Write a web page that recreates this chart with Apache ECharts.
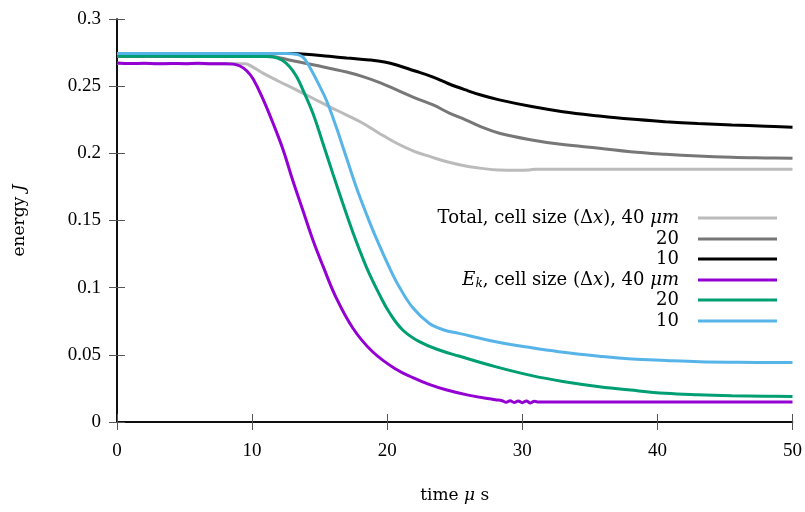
<!DOCTYPE html>
<html>
<head>
<meta charset="utf-8">
<script src="https://cdn.jsdelivr.net/npm/echarts@6/dist/echarts.min.js"></script>
<style>
  html, body { margin: 0; padding: 0; background: #fff; }
  #chart { width: 805px; height: 512px; }
</style>
</head>
<body>
<div id="chart"></div>
<script>
// Energy vs time for three cell sizes: total energy and kinetic energy E_k
const xTicks = [0, 10, 20, 30, 40, 50];
const yTicks = [0, 0.05, 0.1, 0.15, 0.2, 0.25, 0.3];

const tTotal40 = [0, 2, 4, 6, 8, 9.5, 10, 10.8, 12, 13.27, 14.5, 15.7, 17, 18.2, 19.4, 20.7, 22, 23.2, 24.5, 25.8, 27, 28.3, 29.5, 30.5, 31, 35, 40, 45, 50];
const eTotal40 = [0.2670, 0.2668, 0.2669, 0.2667, 0.2668, 0.2666, 0.2645, 0.2597, 0.2535, 0.2472, 0.2410, 0.2348, 0.2285, 0.2224, 0.2150, 0.2075, 0.2015, 0.1975, 0.1935, 0.1906, 0.1888, 0.1876, 0.1874, 0.1876, 0.1882, 0.1882, 0.1882, 0.1882, 0.1882];

const tTotal20 = [0, 4, 8, 11.5, 12, 13.3, 14.5, 15.7, 17, 18.2, 19.5, 20.7, 22, 23.4, 24.6, 25.8, 27, 28.3, 30.7, 33, 35.7, 38, 40.6, 43, 45.5, 48, 50];
const eTotal20 = [0.2721, 0.2721, 0.2721, 0.2720, 0.2712, 0.2683, 0.2660, 0.2634, 0.2605, 0.2571, 0.2525, 0.2472, 0.2415, 0.2360, 0.2300, 0.2249, 0.2195, 0.2150, 0.2100, 0.2065, 0.2038, 0.2012, 0.1993, 0.1980, 0.1971, 0.1966, 0.1963];

const tTotal10 = [0, 4, 8, 13, 14, 15.7, 17, 18.7, 19.8, 20.7, 22, 23.3, 24.5, 25.8, 27, 28.3, 30.7, 33, 35.7, 38, 40.6, 43, 45.5, 48, 50];
const eTotal10 = [0.2744, 0.2744, 0.2744, 0.2743, 0.2738, 0.2722, 0.2710, 0.2695, 0.2680, 0.2658, 0.2615, 0.2571, 0.2520, 0.2472, 0.2432, 0.2398, 0.2348, 0.2310, 0.2278, 0.2255, 0.2236, 0.2222, 0.2211, 0.2202, 0.2194];

const tKin40 = [0, 1, 2, 3, 4, 5, 6, 7, 8, 8.6, 9.1, 9.6, 10.1, 10.8, 11.55, 12.3, 13.0, 13.75, 14.5, 15.25, 16.2, 17.45, 18.9, 20.66, 21.9, 23.1, 24.35, 26, 28, 28.5, 28.8, 29.1, 29.4, 29.7, 30.0, 30.3, 30.6, 30.9, 31.2, 35, 40, 45, 50];
const eKin40 = [0.2672, 0.2668, 0.2670, 0.2666, 0.2669, 0.2667, 0.2670, 0.2666, 0.2667, 0.2664, 0.2650, 0.2615, 0.2550, 0.2405, 0.2224, 0.2025, 0.1801, 0.1578, 0.1355, 0.1160, 0.0930, 0.0700, 0.0525, 0.0392, 0.0330, 0.0280, 0.0240, 0.0200, 0.0166, 0.0158, 0.0147, 0.0158, 0.0145, 0.0157, 0.0144, 0.0156, 0.0142, 0.0155, 0.0148, 0.0148, 0.0148, 0.0148, 0.0148];

const tKin20 = [0, 4, 8, 11.0, 11.55, 12.2, 12.78, 13.3, 13.76, 14.5, 15.24, 15.97, 16.71, 17.45, 18.19, 18.69, 19.42, 20.16, 21.15, 22.38, 23.85, 25.3, 28, 30.7, 33, 35.7, 38, 40.6, 43, 45.5, 48, 50];
const eKin20 = [0.2722, 0.2722, 0.2721, 0.2720, 0.2718, 0.2695, 0.2645, 0.2570, 0.2472, 0.2298, 0.2075, 0.1851, 0.1628, 0.1415, 0.1220, 0.1100, 0.0950, 0.0815, 0.0685, 0.0598, 0.0536, 0.0491, 0.0412, 0.0345, 0.0302, 0.0263, 0.0238, 0.0214, 0.0203, 0.0196, 0.0192, 0.0190];

const tKin10 = [0, 4, 8, 12.5, 13.3, 13.8, 14.25, 14.85, 15.49, 16.22, 16.96, 17.7, 18.44, 19.18, 20.16, 20.9, 21.9, 23.1, 24.2, 25.3, 28.04, 30.7, 32.7, 35.7, 38.1, 40.6, 43.1, 46, 50];
const eKin10 = [0.2744, 0.2744, 0.2744, 0.2744, 0.2738, 0.2712, 0.2645, 0.2530, 0.2397, 0.2198, 0.1975, 0.1752, 0.1554, 0.1370, 0.1150, 0.1005, 0.0850, 0.0735, 0.0685, 0.0660, 0.0598, 0.0552, 0.0523, 0.0490, 0.0469, 0.0458, 0.0449, 0.0445, 0.0442];

const seriesNames = ['Total 40', 'Total 20', 'Total 10', 'Ek 40', 'Ek 20', 'Ek 10'];
const legendLabels = [
  'Total, cell size (Δ{i|x}), 40 {i|μm}',
  '20',
  '10',
  '{i|E}{sub|k}, cell size (Δ{i|x}), 40 {i|μm}',
  '20',
  '10'
];
const seriesColors = ['#bbbbbb', '#777777', '#000000', '#9400d3', '#009e73', '#56b4e9'];

const NUM_FONT = "'Liberation Serif', serif";
const TEXT_FONT = "'DejaVu Serif', serif";
const NUM_FS = 19;
const TEXT_FS = 17;
const LEGEND_FS = 18;

function pairs(t, e) { return t.map((x, i) => [x, e[i]]); }
const seriesData = [
  pairs(tTotal40, eTotal40), pairs(tTotal20, eTotal20), pairs(tTotal10, eTotal10),
  pairs(tKin40, eKin40), pairs(tKin20, eKin20), pairs(tKin10, eKin10)
];

function richFor(fs) {
  return {
    i: { fontFamily: TEXT_FONT, fontSize: fs, fontStyle: 'italic', color: '#000', lineHeight: 20 },
    sub: { fontFamily: TEXT_FONT, fontSize: 12, fontStyle: 'italic', color: '#000', lineHeight: 12, verticalAlign: 'bottom', padding: [8, 0, 0, 0] }
  };
}

// one right-anchored legend per entry so the texts line up on the right
const legendRowCenters = [218, 239, 259, 280, 300, 321];
const legends = seriesNames.map((name, k) => ({
  data: [name],
  right: 28,
  top: legendRowCenters[k] - 10,
  align: 'right',
  orient: 'vertical',
  icon: 'rect',
  itemWidth: 79,
  itemHeight: 3,
  padding: 0,
  selectedMode: false,
  formatter: () => legendLabels[k],
  textStyle: {
    fontFamily: TEXT_FONT, fontSize: LEGEND_FS, color: '#000', lineHeight: 20,
    padding: [0, 14, 0, 0],
    rich: richFor(LEGEND_FS)
  }
}));

const axisLineStyle = { color: '#000', width: 1.5 };
const tickStyle = { color: '#555', width: 1 };

const option = {
  animation: false,
  backgroundColor: '#fff',
  grid: { left: 117, right: 11, top: 19, bottom: 90, containLabel: false },
  legend: legends,
  xAxis: [
    {
      type: 'value', min: 0, max: 50, interval: 10, position: 'bottom',
      name: 'time {i|μ} s', nameLocation: 'middle', nameGap: 64,
      nameTextStyle: { fontFamily: TEXT_FONT, fontSize: TEXT_FS, color: '#000', rich: richFor(TEXT_FS) },
      axisLine: { show: true, lineStyle: axisLineStyle },
      axisTick: { show: true, inside: true, length: 8, lineStyle: tickStyle },
      axisLabel: { fontFamily: NUM_FONT, fontSize: NUM_FS, color: '#000', margin: 20,
        formatter: v => xTicks.includes(v) ? String(v) : '' },
      splitLine: { show: false }
    },
    {
      type: 'value', min: 0, max: 50, interval: 10, position: 'top',
      axisLine: { show: true, lineStyle: axisLineStyle },
      axisTick: { show: true, inside: true, length: 8, lineStyle: tickStyle },
      axisLabel: { show: false },
      splitLine: { show: false }
    }
  ],
  yAxis: [
    {
      type: 'value', min: 0, max: 0.3, interval: 0.05, position: 'left',
      name: 'energy {i|J}', nameLocation: 'middle', nameGap: 87, nameRotate: 90,
      nameTextStyle: { fontFamily: TEXT_FONT, fontSize: TEXT_FS, color: '#000', rich: richFor(TEXT_FS) },
      axisLine: { show: true, lineStyle: axisLineStyle },
      axisTick: { show: true, inside: true, length: 8, lineStyle: tickStyle },
      axisLabel: { fontFamily: NUM_FONT, fontSize: NUM_FS, color: '#000', margin: 16,
        formatter: v => {
          const t = yTicks.find(y => Math.abs(y - v) < 1e-9);
          return t === undefined ? '' : String(t);
        } },
      splitLine: { show: false }
    },
    {
      type: 'value', min: 0, max: 0.3, interval: 0.05, position: 'right',
      axisLine: { show: true, lineStyle: axisLineStyle },
      axisTick: { show: true, inside: true, length: 8, lineStyle: tickStyle },
      axisLabel: { show: false },
      splitLine: { show: false }
    }
  ],
  series: seriesNames.map((name, k) => ({
    name,
    type: 'line',
    xAxisIndex: 0,
    yAxisIndex: 0,
    data: seriesData[k],
    showSymbol: false,
    symbol: 'none',
    smooth: 0.4,
    color: seriesColors[k],
    lineStyle: { color: seriesColors[k], width: 3 },
    z: 2 + k
  }))
};

const chart = echarts.init(document.getElementById('chart'), null, { renderer: 'canvas' });
chart.setOption(option);
</script>
</body>
</html>
